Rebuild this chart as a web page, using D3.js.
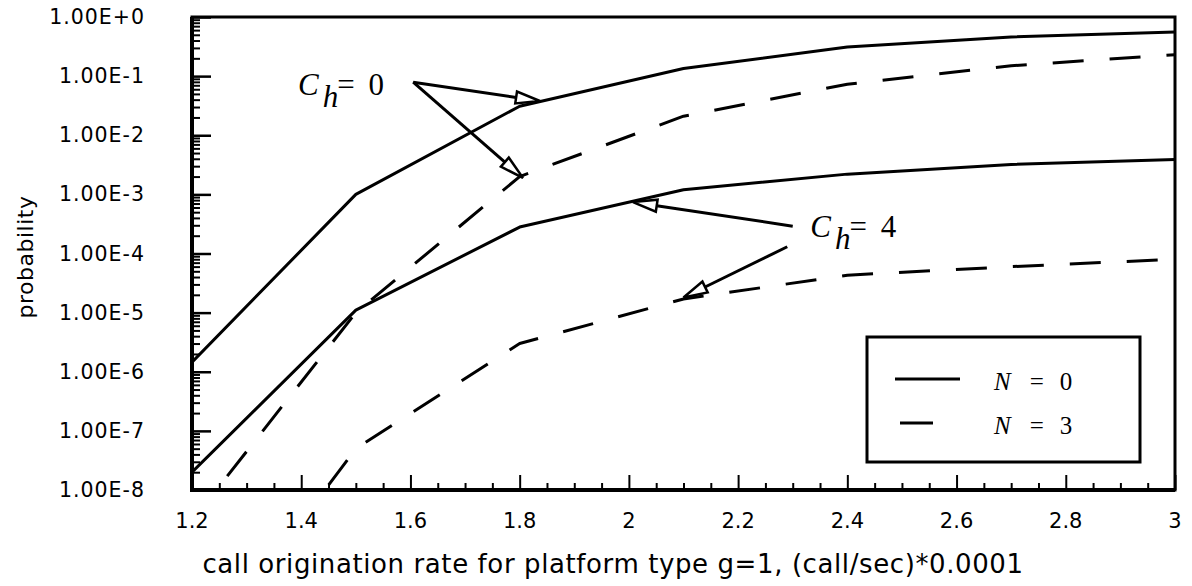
<!DOCTYPE html>
<html>
<head>
<meta charset="utf-8">
<script src="https://cdn.jsdelivr.net/npm/d3@7"></script>
<style>
	body { margin: 0; background: #fff }
	svg { display: block }
	.tick-label { font-family: "DejaVu Sans", sans-serif; fill: #000 }
	.serif { font-family: "Liberation Serif", "Times New Roman", serif; fill: #000 }
</style>
</head>
<body>
<svg id="chart"></svg>
<script>
// call origination rate (x 0.0001 call/sec)
const rates = [1.2, 1.5, 1.8, 2.1, 2.4, 2.7, 3.0]
// blocking probability
const ch0N0 = [1.45e-6, 1.0e-3, 3.1e-2, 1.35e-1, 3.1e-1, 4.6e-1, 5.6e-1]
const ch0N3 = [3.0e-9, 1.0e-5, 2.0e-3, 2.1e-2, 7.3e-2, 1.5e-1, 2.3e-1]
const ch4N0 = [2.0e-8, 1.1e-5, 2.8e-4, 1.2e-3, 2.2e-3, 3.2e-3, 3.9e-3]
const ch4N3 = [1.0e-11, 5.0e-8, 3.0e-6, 1.7e-5, 4.3e-5, 6.0e-5, 8.0e-5]

const xTicks = [1.2, 1.4, 1.6, 1.8, 2, 2.2, 2.4, 2.6, 2.8, 3]
const yTicks = [1, 1e-1, 1e-2, 1e-3, 1e-4, 1e-5, 1e-6, 1e-7, 1e-8]
const yTickLabels = ["1.00E+0", "1.00E-1", "1.00E-2", "1.00E-3", "1.00E-4", "1.00E-5", "1.00E-6", "1.00E-7", "1.00E-8"]

const legendLabels = ["0", "3"]

// annotation arrows: [from rate, from prob, to rate, to prob]
const ch0Arrows = [[1.605, 0.079, 1.837, 0.038], [1.605, 0.079, 1.806, 1.9e-3]]
const ch4Arrows = [[2.30, 2.9e-4, 2.0075, 7.4e-4], [2.29, 1.3e-4, 2.10, 1.8e-5]]
// annotation text anchors: [rate, prob, value]
const chLabels = [[1.394, 0.048, "0"], [2.332, 1.9e-4, "4"]]

const width = 1192
const height = 586
const margin = {top: 17, right: 17, bottom: 96, left: 192}
const plotWidth = width - margin.left - margin.right
const plotHeight = height - margin.top - margin.bottom

const svg = d3.select("#chart")
	.attr("width", width)
	.attr("height", height)

const x = d3.scaleLinear().domain([1.2, 3]).range([margin.left, margin.left + plotWidth])
const y = d3.scaleLog().domain([1e-8, 1]).range([margin.top + plotHeight, margin.top])

svg.append("defs").append("clipPath")
	.attr("id", "plot-clip")
	.append("rect")
	.attr("x", margin.left)
	.attr("y", margin.top)
	.attr("width", plotWidth)
	.attr("height", plotHeight)

// ticks drawn inward
const xMinor = d3.range(1.2, 3.0001, 0.05).filter(v => Math.abs(v * 5 - Math.round(v * 5)) > 1e-6)
svg.append("g")
	.attr("transform", "translate(0," + (margin.top + plotHeight) + ")")
	.call(d3.axisTop(x).tickValues(xMinor).tickSize(7).tickFormat(""))
	.call(g => g.select(".domain").remove())
	.call(g => g.selectAll("line").attr("stroke-width", 2))
svg.append("g")
	.attr("transform", "translate(0," + (margin.top + plotHeight) + ")")
	.call(d3.axisTop(x).tickValues(xTicks).tickSize(15).tickFormat(""))
	.call(g => g.select(".domain").remove())
	.call(g => g.selectAll("line").attr("stroke-width", 2))

const yMinor = []
yTicks.slice(1).forEach(d => { for (let k = 2; k <= 9; k++) yMinor.push(d * k) })
svg.append("g")
	.attr("transform", "translate(" + margin.left + ",0)")
	.call(d3.axisRight(y).tickValues(yMinor).tickSize(8).tickFormat(""))
	.call(g => g.select(".domain").remove())
	.call(g => g.selectAll("line").attr("stroke-width", 2))
svg.append("g")
	.attr("transform", "translate(" + margin.left + ",0)")
	.call(d3.axisRight(y).tickValues(yTicks).tickSize(19).tickFormat(""))
	.call(g => g.select(".domain").remove())
	.call(g => g.selectAll("line").attr("stroke-width", 2.5))

// tick labels
svg.append("g").selectAll("text")
	.data(xTicks)
	.join("text")
	.attr("class", "tick-label")
	.attr("x", d => x(d))
	.attr("y", 528)
	.attr("text-anchor", "middle")
	.attr("font-size", 21)
	.text(d => d)
svg.append("g").selectAll("text")
	.data(yTicks)
	.join("text")
	.attr("class", "tick-label")
	.attr("x", 145)
	.attr("y", d => y(d) + 7)
	.attr("text-anchor", "end")
	.attr("font-size", 20.5)
	.attr("letter-spacing", 1)
	.text((d, i) => yTickLabels[i])

svg.append("text")
	.attr("class", "tick-label")
	.attr("x", 613)
	.attr("y", 573)
	.attr("text-anchor", "middle")
	.attr("font-size", 26)
	.attr("letter-spacing", 0.6)
	.text("call origination rate for platform type g=1, (call/sec)*0.0001")
svg.append("text")
	.attr("class", "tick-label")
	.attr("transform", "translate(33,257) rotate(-90)")
	.attr("text-anchor", "middle")
	.attr("font-size", 22)
	.attr("letter-spacing", 0.5)
	.text("probability")

// curves
const line = d3.line()
	.x((d, i) => x(rates[i]))
	.y(d => y(d))
const curves = svg.append("g").attr("clip-path", "url(#plot-clip)")
const series = [
	{values: ch0N0, dash: null},
	{values: ch0N3, dash: "31,26"},
	{values: ch4N0, dash: null},
	{values: ch4N3, dash: "31,26"},
]
series.forEach(s => {
	curves.append("path")
		.datum(s.values)
		.attr("fill", "none")
		.attr("stroke", "#000")
		.attr("stroke-width", 3)
		.attr("stroke-linejoin", "round")
		.attr("stroke-dasharray", s.dash)
		.attr("d", line)
})

// frame
svg.append("rect")
	.attr("x", margin.left)
	.attr("y", margin.top)
	.attr("width", plotWidth)
	.attr("height", plotHeight)
	.attr("fill", "none")
	.attr("stroke", "#000")
	.attr("stroke-width", 3)
svg.append("path")
	.attr("d", "M" + margin.left + "," + margin.top + "V" + (margin.top + plotHeight) + "H" + (margin.left + plotWidth))
	.attr("fill", "none")
	.attr("stroke", "#000")
	.attr("stroke-width", 4)

// annotations
function drawArrow(a) {
	const x0 = x(a[0]), y0 = y(a[1]), x1 = x(a[2]), y1 = y(a[3])
	const ang = Math.atan2(y1 - y0, x1 - x0)
	const len = 24, half = 6
	const bx = x1 - len * Math.cos(ang), by = y1 - len * Math.sin(ang)
	svg.append("line")
		.attr("x1", x0).attr("y1", y0)
		.attr("x2", bx).attr("y2", by)
		.attr("stroke", "#000")
		.attr("stroke-width", 3)
	const head = [
		[x1, y1],
		[bx + half * Math.sin(ang), by - half * Math.cos(ang)],
		[bx - half * Math.sin(ang), by + half * Math.cos(ang)],
	]
	svg.append("polygon")
		.attr("points", head.map(p => p.join(",")).join(" "))
		.attr("fill", "#fff")
		.attr("stroke", "#000")
		.attr("stroke-width", 2.5)
		.attr("stroke-linejoin", "miter")
}
ch0Arrows.forEach(drawArrow)
ch4Arrows.forEach(drawArrow)

chLabels.forEach(c => {
	const t = svg.append("text")
		.attr("class", "serif")
		.attr("x", x(c[0]))
		.attr("y", y(c[1]))
		.attr("font-size", 31)
	t.append("tspan").attr("font-style", "italic").text("C")
	t.append("tspan").attr("font-style", "italic").attr("dx", 4).attr("dy", 12).text("h")
	t.append("tspan").attr("dy", -12).attr("dx", -1).text("=")
	t.append("tspan").attr("dx", 14).text(c[2])
})

// legend
const legend = svg.append("g")
legend.append("rect")
	.attr("x", 867)
	.attr("y", 337)
	.attr("width", 273)
	.attr("height", 125)
	.attr("fill", "#fff")
	.attr("stroke", "#000")
	.attr("stroke-width", 3)
const legendRows = legend.selectAll("g")
	.data(legendLabels)
	.join("g")
	.attr("transform", (d, i) => "translate(0," + (379 + i * 44) + ")")
legendRows.append("line")
	.attr("x1", (d, i) => i === 0 ? 895 : 900)
	.attr("x2", (d, i) => i === 0 ? 960 : 933)
	.attr("stroke", "#000")
	.attr("stroke-width", 3)
const legendText = legendRows.append("text")
	.attr("class", "serif")
	.attr("x", 994)
	.attr("y", 11)
	.attr("font-size", 25)
legendText.append("tspan").attr("font-style", "italic").text("N")
legendText.append("tspan").attr("dx", 19).text("=")
legendText.append("tspan").attr("dx", 16).text(d => d)
</script>
</body>
</html>
